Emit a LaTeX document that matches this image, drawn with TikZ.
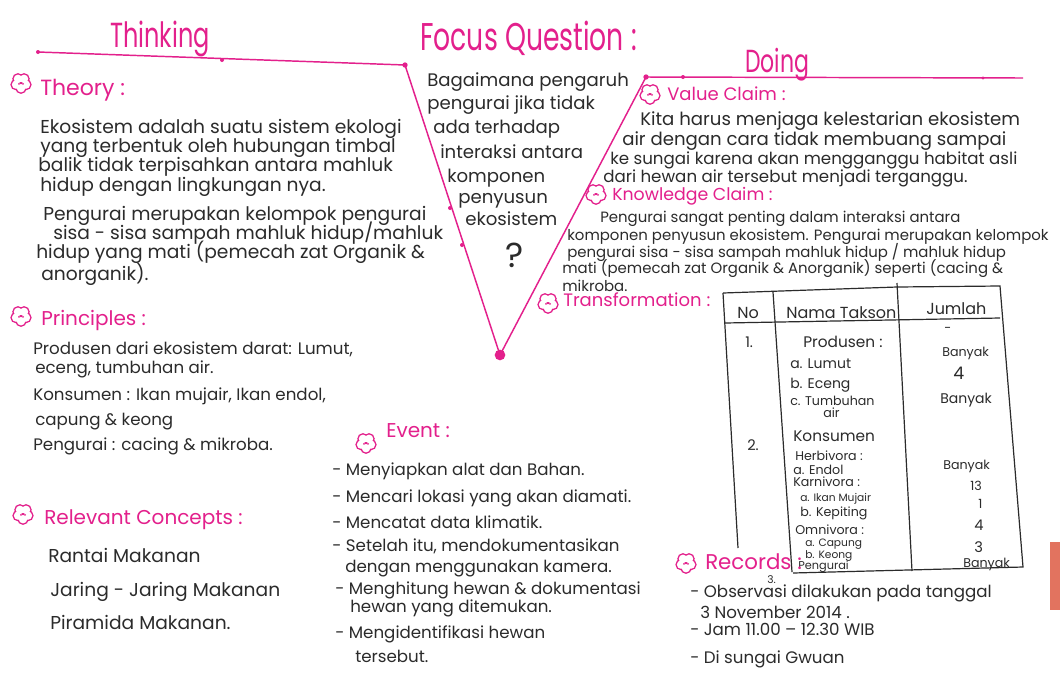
\documentclass[tikz,border=0pt]{standalone}
\usepackage{fontspec}
\setmainfont{Poppins}
\definecolor{pk}{HTML}{E3208C}
\definecolor{ink}{HTML}{2B2B2B}
\definecolor{bar}{HTML}{E2735F}
\tikzset{
  vline/.style={pk, line width=1.1pt},
  vdot/.style={circle, fill=pk, inner sep=0pt, minimum size=4pt},
  txt/.style={anchor=base west, inner sep=0pt, text=ink, font=\fontsize{12.5}{14}\selectfont},
  big/.style={txt, font=\fontsize{14}{15}\selectfont},
  mid/.style={txt, font=\fontsize{13.6}{15}\selectfont},
  kc/.style={txt, font=\fontsize{11.2}{13}\selectfont},
  rc/.style={txt, font=\fontsize{14}{16}\selectfont},
  cell/.style={anchor=base west, inner sep=0pt, text=ink, font=\fontsize{9.5}{10}\selectfont},
  hd/.style={anchor=base west, inner sep=0pt, text=pk, font=\fontsize{15}{17}\selectfont},
  ttl/.style={anchor=base west, inner sep=0pt, text=pk, font=\fontsize{18}{20}\selectfont},
  tbl/.style={ink, line width=0.9pt},
  flower/.pic={
    \foreach \a in {90,162,234,306,18}{\draw[pk, line width=2.1pt] (\a:5.2) circle (4.2);}
    \foreach \a in {90,162,234,306,18}{\fill[white] (\a:5.2) circle (4.2);}
    \fill[pk] (-2,0.8) circle (1);
    \fill[pk] (2,0.8) circle (1);
  }
}
\begin{document}
\begin{tikzpicture}[x=0.75pt,y=-0.75pt]
\useasboundingbox (0,0) rectangle (1060,672);
\fill[white] (0,0) rectangle (1060,672);

% ---- Vee ----
\coordinate (TL) at (38,52);
\coordinate (A) at (405,65);
\coordinate (B) at (500,355);
\coordinate (C) at (646,77);
\coordinate (TR) at (1023,78);
\draw[vline] (TL) -- (A) -- (B) -- (C) -- (TR);
\node[vdot, minimum size=3pt] (d0) at (TL) {};
\node[vdot, minimum size=3pt] (d1) at (222,60) {};
\node[vdot] (dA) at (A) {};
\node[vdot, minimum size=3pt] (d2) at (450,208) {};
\node[vdot, minimum size=3pt] (d3) at (462,245) {};
\node[vdot, minimum size=8pt] (dB) at (B) {};
\node[vdot] (dC) at (C) {};
\node[vdot, minimum size=3pt] (d4) at (683,77) {};
\node[vdot, minimum size=2.5pt] (d5) at (983,78) {};

% ---- titles ----
\node[ttl] (thinking) at (110,47) {\scalebox{1}[1.45]{Thinking}};
\node[ttl, font=\fontsize{20}{22}\selectfont] (focus) at (420,50) {\scalebox{1}[1.45]{Focus Question :}};
\node[ttl, font=\fontsize{16.5}{18}\selectfont] (doing) at (745,72) {\scalebox{1}[1.45]{Doing}};

% ---- Theory ----
\pic at (21,83) {flower};
\node[hd, font=\fontsize{16.5}{18}\selectfont] (theory) at (40,95) {Theory :};
\node[big] (th1) at (40,133) {Ekosistem adalah suatu sistem ekologi};
\node[big] (th2) at (40,152) {yang terbentuk oleh hubungan timbal};
\node[big] (th3) at (38,171) {balik tidak terpisahkan antara mahluk};
\node[big] (th4) at (40,191) {hidup dengan lingkungan nya.};
\node[big] (th5) at (43,220) {Pengurai merupakan kelompok pengurai};
\node[big] (th6) at (53,239) {sisa - sisa sampah mahluk hidup/mahluk};
\node[big] (th7) at (36,258) {hidup yang mati (pemecah zat Organik \&};
\node[big] (th8) at (41,280) {anorganik).};

% ---- Principles ----
\pic at (21,316) {flower};
\node[hd] (princ) at (41,325) {Principles :};
\node[txt] (pr1) at (33,354) {Produsen dari ekosistem darat: Lumut,};
\node[txt] (pr2) at (35,373) {eceng, tumbuhan air.};
\node[txt] (pr3) at (33,400) {Konsumen : Ikan mujair, Ikan endol,};
\node[txt] (pr4) at (35,425) {capung \& keong};
\node[txt] (pr5) at (33,450) {Pengurai : cacing \& mikroba.};

% ---- Relevant Concepts ----
\pic at (23,514) {flower};
\node[hd] (relc) at (44,524) {Relevant  Concepts :};
\node[rc] (rc1) at (48,562) {Rantai Makanan};
\node[rc] (rc2) at (50,596) {Jaring - Jaring Makanan};
\node[rc] (rc3) at (50,629) {Piramida Makanan.};

% ---- Focus question ----
\node[mid] (fq1) at (427,86) {Bagaimana pengaruh};
\node[mid] (fq2) at (427,109) {pengurai jika tidak};
\node[mid] (fq3) at (433,133) {ada terhadap};
\node[mid] (fq4) at (440,158) {interaksi antara};
\node[mid] (fq5) at (447,182) {komponen};
\node[mid] (fq6) at (458,203) {penyusun};
\node[mid] (fq7) at (465,225) {ekosistem};
\node[txt, font=\fontsize{26}{28}\selectfont] (fqq) at (505,267) {?};

% ---- Event ----
\pic at (366,443) {flower};
\node[hd] (event) at (386,437) {Event :};
\node[txt] (ev1) at (332,475) {- Menyiapkan alat dan Bahan.};
\node[txt] (ev2) at (332,502) {- Mencari lokasi yang akan diamati.};
\node[txt] (ev3) at (332,528) {- Mencatat data klimatik.};
\node[txt] (ev4) at (332,551) {- Setelah itu, mendokumentasikan};
\node[txt] (ev5) at (345,572) {dengan menggunakan kamera.};
\node[txt] (ev6) at (335,594) {- Menghitung hewan \& dokumentasi};
\node[txt] (ev7) at (350,612) {hewan yang ditemukan.};
\node[txt] (ev8) at (335,638) {- Mengidentifikasi hewan};
\node[txt] (ev9) at (355,662) {tersebut.};

% ---- Value claim ----
\pic at (650,94) {flower};
\node[hd, font=\fontsize{13.5}{15}\selectfont] (value) at (667,100) {Value Claim :};
\node[mid] (vc1) at (640,125) {Kita harus menjaga kelestarian ekosistem};
\node[mid] (vc2) at (622,145) {air dengan cara tidak membuang sampai};
\node[txt] (vc3) at (610,164) {ke sungai karena akan mengganggu habitat asli};
\node[txt] (vc4) at (603,182) {dari hewan air tersebut menjadi terganggu.};

% ---- Knowledge claim ----
\pic at (596,194) {flower};
\node[hd, font=\fontsize{13}{15}\selectfont] (know) at (612,200) {Knowledge Claim :};
\node[kc] (kc1) at (600,222) {Pengurai sangat penting dalam interaksi antara};
\node[kc] (kc2) at (567,240) {komponen penyusun ekosistem. Pengurai merupakan kelompok};
\node[kc] (kc3) at (567,257) {pengurai sisa - sisa sampah mahluk hidup / mahluk hidup};
\node[kc] (kc4) at (562,273) {mati (pemecah zat Organik \& Anorganik) seperti (cacing \&};
\node[kc] (kc5) at (562,291) {mikroba.};

% ---- Transformation ----
\pic at (548,303) {flower};
\node[hd, font=\fontsize{13.5}{15}\selectfont] (trans) at (563,306) {Transformation :};

% table lines
\draw[tbl] (723,293) -- (897,287) -- (1000,286) -- (1023,567) -- (793,573);
\draw[tbl] (723,293) -- (738,548);
\draw[tbl] (725,323) -- (1000,318);
\draw[tbl] (773,292) -- (792,572);
\draw[tbl] (897,283) -- (912,571);

\node[cell, font=\fontsize{12}{13}\selectfont] (hNo) at (737,318) {No};
\node[cell, font=\fontsize{12}{13}\selectfont] (hNama) at (786,318) {Nama Takson};
\node[cell, font=\fontsize{12}{13}\selectfont] (hJml) at (926,314) {Jumlah};
\node[cell, font=\fontsize{11}{12}\selectfont] (n1) at (745,347) {1.};
\node[cell, font=\fontsize{11.5}{12}\selectfont] (c1) at (803,347) {Produsen :};
\node[cell, font=\fontsize{10.5}{12}\selectfont] (c2) at (790,368) {a. Lumut};
\node[cell, font=\fontsize{10.5}{12}\selectfont] (c3) at (790,388) {b. Eceng};
\node[cell] (c4) at (790,405) {c. Tumbuhan};
\node[cell] (c5) at (823,417) {air};
\node[cell, font=\fontsize{11.5}{12}\selectfont] (c6) at (793,441) {Konsumen};
\node[cell, font=\fontsize{11}{12}\selectfont] (n2) at (747,450) {2.};
\node[cell] (c7) at (795,460) {Herbivora :};
\node[cell] (c8) at (793,474) {a. Endol};
\node[cell] (c9) at (793,486) {Karnivora :};
\node[cell, font=\fontsize{8}{9}\selectfont] (c10) at (800,501) {a. Ikan Mujair};
\node[cell] (c11) at (800,516) {b. Kepiting};
\node[cell] (c12) at (795,534) {Omnivora :};
\node[cell, font=\fontsize{8}{9}\selectfont] (c13) at (805,546) {a. Capung};
\node[cell, font=\fontsize{8}{9}\selectfont] (c14) at (805,558) {b. Keong};
\node[cell, font=\fontsize{8.5}{9}\selectfont] (c15) at (798,569) {Pengurai};
\node[cell, font=\fontsize{8}{9}\selectfont] (n3) at (767,583) {3.};
\node[cell] (j0) at (944,332) {-};
\node[cell] (j1) at (942,356) {Banyak};
\node[cell, font=\fontsize{13}{14}\selectfont] (j2) at (953,379) {4};
\node[cell, font=\fontsize{10.5}{12}\selectfont] (j3) at (940,403) {Banyak};
\node[cell] (j4) at (943,469) {Banyak};
\node[cell] (j5) at (970,490) {13};
\node[cell] (j6) at (978,508) {1};
\node[cell, font=\fontsize{11}{12}\selectfont] (j7) at (974,530) {4};
\node[cell, font=\fontsize{11}{12}\selectfont] (j8) at (974,552) {3};
\node[cell] (j9) at (963,567) {Banyak};

% ---- Records ----
\pic at (686,563) {flower};
\node[hd, font=\fontsize{16}{18}\selectfont] (rec) at (705,569) {Records :};
\node[txt] (re1) at (690,597) {- Observasi dilakukan pada tanggal};
\node[txt] (re2) at (700,618) {3 November 2014 .};
\node[txt] (re3) at (690,635) {- Jam  11.00 -- 12.30 WIB};
\node[txt] (re4) at (690,663) {- Di sungai Gwuan};

% ---- edge bar ----
\fill[bar] (1050,542) rectangle (1060,610);
\end{tikzpicture}
\end{document}
